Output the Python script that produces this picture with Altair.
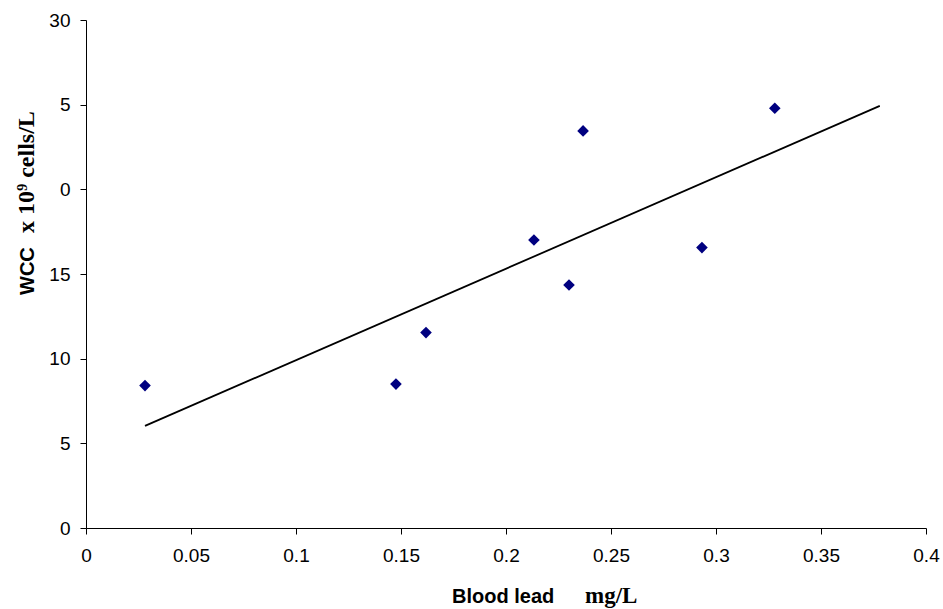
import json
import altair as alt
import pandas as pd

# Data
blood_lead = [0.0281, 0.1476, 0.1619, 0.2133, 0.2300, 0.2367, 0.2933, 0.3280]
wcc = [8.41, 8.50, 11.54, 17.01, 14.35, 23.45, 16.56, 24.79]
trend_extent = [0.0281, 0.378]
x_ticks = [0, 0.05, 0.1, 0.15, 0.2, 0.25, 0.3, 0.35, 0.4]
y_ticks = [0, 5, 10, 15, 20, 25, 30]
y_tick_labels = ["0", "5", "10", "15", "0", "5", "30"]

df = pd.DataFrame({"lead": blood_lead, "wcc": wcc})

W, H = 840, 508
SANS = "Liberation Sans"
SERIF = "Liberation Serif"

x_enc = alt.X(
    "lead:Q",
    scale=alt.Scale(domain=[0, 0.4], nice=False, zero=False),
    axis=alt.Axis(
        values=x_ticks, title=None, grid=False, labelFont=SANS, labelFontSize=19,
        labelColor="#000", domainColor="#000", tickColor="#000", tickSize=6,
        labelPadding=12, labelFlush=False, labelOverlap=False, domainWidth=1, tickWidth=1,
        format="~g",
    ),
)
y_enc = alt.Y(
    "wcc:Q",
    scale=alt.Scale(domain=[0, 30], nice=False, zero=False),
    axis=alt.Axis(
        values=y_ticks, title=None, grid=False, labelFont=SANS, labelFontSize=19,
        labelColor="#000", domainColor="#000", tickColor="#000", tickSize=6,
        labelPadding=10, labelFlush=False, labelOverlap=False, domainWidth=1, tickWidth=1,
        labelExpr=f"{json.dumps(y_tick_labels)}[round(datum.value / 5)]",
    ),
)

points = alt.Chart(df).mark_point(
    shape="diamond", filled=True, color="#000080", size=135, opacity=1
).encode(x=x_enc, y=y_enc)

trend = alt.Chart(df).transform_regression(
    "lead", "wcc", extent=trend_extent
).mark_line(color="#000", strokeWidth=1.8).encode(x=x_enc, y=y_enc)


def label(text, x, y, font, size, angle=0, align="left"):
    return alt.Chart(pd.DataFrame({"t": [text]})).mark_text(
        font=font, fontSize=size, fontWeight="bold", color="#000",
        align=align, baseline="alphabetic", angle=angle,
    ).encode(text="t:N", x=alt.value(x), y=alt.value(y))


titles = [
    label("Blood lead", 452 - 86, 603 - 20, SANS, 20),
    label("mg/L", 585 - 86, 603 - 20, SERIF, 23),
    label("WCC", 34 - 86, 295 - 20, SANS, 20, angle=270),
    label("x 10\u2079 cells/L", 34 - 86, 233 - 20, SERIF, 24, angle=270),
]

chart = alt.layer(trend, points, *titles).properties(
    width=W, height=H,
    padding={"left": 86, "top": 20, "right": 17, "bottom": 81},
    autosize=alt.AutoSizeParams(type="none"),
    background="white",
).configure_view(stroke=None)

chart.save("out.html", embed_options={"renderer": "svg", "actions": False})
